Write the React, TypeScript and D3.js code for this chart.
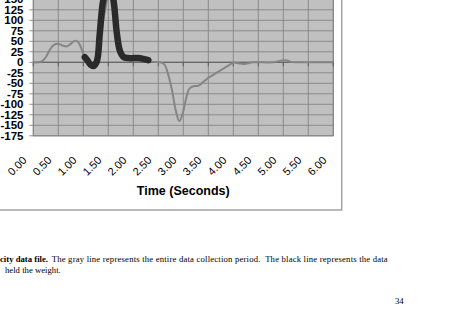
import React from "react";
import * as d3 from "d3";

const grayTimes = [0, 0.1, 0.17, 0.25, 0.33, 0.42, 0.5, 0.58, 0.67, 0.75, 0.83, 0.9, 0.97, 1.03, 1.1, 1.2, 1.3, 1.4, 1.53, 1.65, 1.75, 1.85, 2.0, 2.15, 2.3, 2.4, 2.53, 2.62, 2.7, 2.78, 2.85, 2.92, 2.98, 3.05, 3.12, 3.2, 3.3, 3.4, 3.5, 3.6, 3.7, 3.8, 3.9, 4.0, 4.1, 4.2, 4.3, 4.4, 4.6, 4.8, 4.95, 5.05, 5.15, 5.3, 5.6, 6.0];
const grayValues = [0, 0, 2, 12, 30, 42, 44, 40, 38, 44, 51, 48, 30, 10, -5, -10, 20, 100, 165, 90, 25, 10, 8, 8, 4, 1, 0, -5, -30, -70, -115, -140, -125, -90, -63, -57, -56, -47, -37, -30, -22, -15, -8, -1, -2, -4, -2, 0, 0, 0, 4, 5, 1, 0, 0, 0];

const blackTimes = [1.03, 1.08, 1.14, 1.2, 1.27, 1.33, 1.4, 1.47, 1.53, 1.6, 1.67, 1.73, 1.8, 1.9, 2.0, 2.1, 2.2, 2.3];
const blackValues = [12, 5, -5, -9, 2, 69, 148, 172, 178, 150, 70, 28, 13, 10, 10, 10, 8, 5];

const xTicks = [0, 0.5, 1, 1.5, 2, 2.5, 3, 3.5, 4, 4.5, 5, 5.5, 6];
const yTicks = [-175, -150, -125, -100, -75, -50, -25, 0, 25, 50, 75, 100, 125, 150, 175, 200];
const yLabelMax = 150;

const xTitle = "Time (Seconds)";
const captionBold = "velocity data file.";
const captionLine1 = "The gray line represents the entire data collection period.  The black line represents the data";
const captionLine2 = "held the weight.";
const pageNumber = "34";

export default function App() {
  const left = 33.3, right = 333.3;
  const y0 = 135.8;
  const pxPerUnit = 0.42;
  const x = d3.scaleLinear().domain([0, 6]).range([left, right]);
  const y = d3.scaleLinear().domain([-175, 200]).range([y0, y0 - 375 * pxPerUnit]);
  const top = y(200);

  const line = d3
    .line<[number, number]>()
    .x((d) => x(d[0]))
    .y((d) => y(d[1]))
    .curve(d3.curveCatmullRom.alpha(0.5));

  const grayPts = grayTimes.map((t, i) => [t, grayValues[i]] as [number, number]);
  const blackPts = blackTimes.map((t, i) => [t, blackValues[i]] as [number, number]);

  const sans = "'Liberation Sans', Arial, sans-serif";
  const serif = "'Liberation Serif', 'Times New Roman', serif";

  return (
    <svg
      width={459}
      height={320}
      style={{ position: "absolute", left: 0, top: 0, background: "#fff" }}
    >
      <rect x={-10} y={-10} width={351.7} height={220} fill="#fff" stroke="#a3a3a3" strokeWidth={1.5} />
      <defs>
        <clipPath id="plotClip">
          <rect x={left} y={top} width={right - left} height={y0 - top} />
        </clipPath>
      </defs>
      <rect x={left} y={top} width={right - left} height={y0 - top} fill="#c0c0c0" stroke="#808080" strokeWidth={1} />
      {yTicks.map((v) => (
        <line key={"hy" + v} x1={left - 4} x2={right} y1={y(v)} y2={y(v)} stroke="#858585" strokeWidth={0.9} />
      ))}
      {xTicks.map((t) => (
        <line key={"vx" + t} x1={x(t)} x2={x(t)} y1={top} y2={y0} stroke="#858585" strokeWidth={0.9} />
      ))}
      <line x1={left} x2={right} y1={y(0)} y2={y(0)} stroke="#5a5a5a" strokeWidth={1.1} />
      {xTicks.map((t) => (
        <line key={"tk" + t} x1={x(t)} x2={x(t)} y1={y(0)} y2={y(0) + 4} stroke="#5a5a5a" strokeWidth={1} />
      ))}
      <g clipPath="url(#plotClip)">
        <path d={line(grayPts) || ""} fill="none" stroke="#858585" strokeWidth={2} strokeLinejoin="round" />
        <path d={line(blackPts) || ""} fill="none" stroke="#2a2a2a" strokeWidth={6.5} strokeLinejoin="round" strokeLinecap="round" />
      </g>
      {yTicks.filter((v) => v <= yLabelMax).map((v) => (
        <text
          key={"yl" + v}
          x={23.5}
          y={y(v)}
          dy="0.35em"
          textAnchor="end"
          fontFamily={sans}
          fontWeight="bold"
          fontSize={11.5}
          fill="#000"
        >
          {v}
        </text>
      ))}
      {xTicks.map((t) => (
        <text
          key={"xl" + t}
          transform={`translate(${x(t) - 6},${161}) rotate(-45)`}
          textAnchor="end"
          fontFamily={sans}
          fontSize={11}
          fill="#000"
        >
          {t.toFixed(2)}
        </text>
      ))}
      <text x={(left + right) / 2} y={195} textAnchor="middle" fontFamily={sans} fontWeight="bold" fontSize={12.5} fill="#000">
        {xTitle}
      </text>
      <text x={48} y={262} textAnchor="end" fontFamily={serif} fontWeight="bold" fontSize={8.7} fill="#000">
        {captionBold}
      </text>
      <text
        x={51.7}
        y={262}
        fontFamily={serif}
        fontSize={8.7}
        fill="#000"
        textLength={336}
        lengthAdjust="spacing"
        style={{ whiteSpace: "pre" }}
      >
        {captionLine1}
      </text>
      <text x={5} y={273} fontFamily={serif} fontSize={8.7} fill="#000">
        {captionLine2}
      </text>
      <text x={395} y={304} fontFamily={serif} fontSize={8.7} fill="#000">
        {pageNumber}
      </text>
    </svg>
  );
}
